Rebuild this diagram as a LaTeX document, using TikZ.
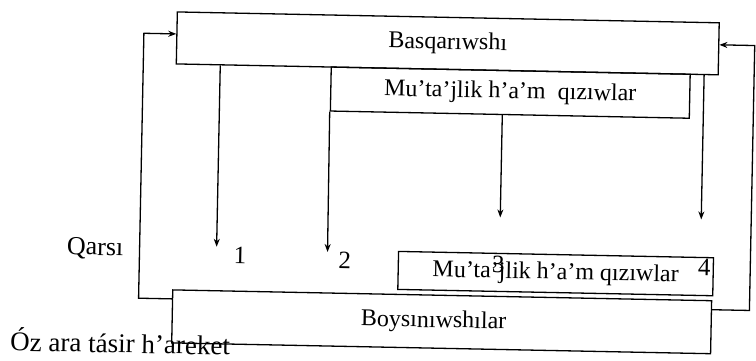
\documentclass[tikz,border=0pt]{standalone}
\usepackage{fontspec}
\setmainfont{Liberation Serif}
\usetikzlibrary{arrows.meta,calc}
\begin{document}
\begin{tikzpicture}[x=1pt,y=-1pt,
  box/.style={draw,line width=1.3pt,rectangle,inner sep=0pt,font=\fontsize{24}{28}\selectfont,transform shape},
  lbl/.style={font=\fontsize{25}{29}\selectfont,inner sep=0pt,transform shape},
  side/.style={font=\fontsize{26}{30}\selectfont,inner sep=0pt,anchor=base,transform shape},
  arr/.style={line width=1.3pt,-{Stealth[length=8pt,width=6pt]}},
  ln/.style={line width=1.3pt}]
\useasboundingbox (0,0) rectangle (756,361);
\begin{scope}[rotate around={-1.15:(378,180)}]
  \node[box,minimum width=542pt,minimum height=52pt] (top) at (445,42) {Basqarıwshı};
  \node[box,minimum width=359pt,minimum height=44pt] (mid) at (508.5,90) {Mu’ta’jlik h’a’m\ \ qızıwlar};
  \node[box,minimum width=315pt,minimum height=38pt] (low) at (557.5,270) {Mu’ta’jlik h’a’m qızıwlar};
  \node[box,minimum width=539pt,minimum height=53pt] (boy) at (444.5,320.5) {\hspace*{-16pt}\raisebox{3pt}{Boysınıwshılar}};

  \coordinate (t1) at (218,250);
  \coordinate (t2) at (329,253);
  \coordinate (t3) at (501,215);
  \coordinate (t4) at (702,213);
  \draw[arr] (t1 |- top.south) -- (t1);
  \draw[arr] (mid.south west) -- (t2);
  \draw[arr] (t3 |- mid.south) -- (t3);
  \draw[arr] (t4 |- top.south) -- (t4);

  \coordinate (lb) at (141,303);
  \coordinate (lt) at (141,38);
  \coordinate (rb) at (752,303);
  \coordinate (rt) at (752,38);
  \draw[arr] (boy.west |- lb) -- (lb) -- (lt) -- (top.west |- lt);
  \draw[arr] (boy.east |- rb) -- (rb) -- (rt) -- (top.east |- rt);

  \node[lbl] (n1) at (241.5,258) {1};
  \node[lbl] (n2) at (346.5,261) {2};
  \node[lbl] (n3) at (500,262) {3};
  \node[lbl] (n4) at (706,260.5) {4};
  \node[side] (q) at (96.5,260.7) {Qarsı};
  \node[side,font=\fontsize{27}{31}\selectfont] (oz) at (123.5,358) {Óz ara tásir h’areket};
\end{scope}
\end{tikzpicture}
\end{document}
